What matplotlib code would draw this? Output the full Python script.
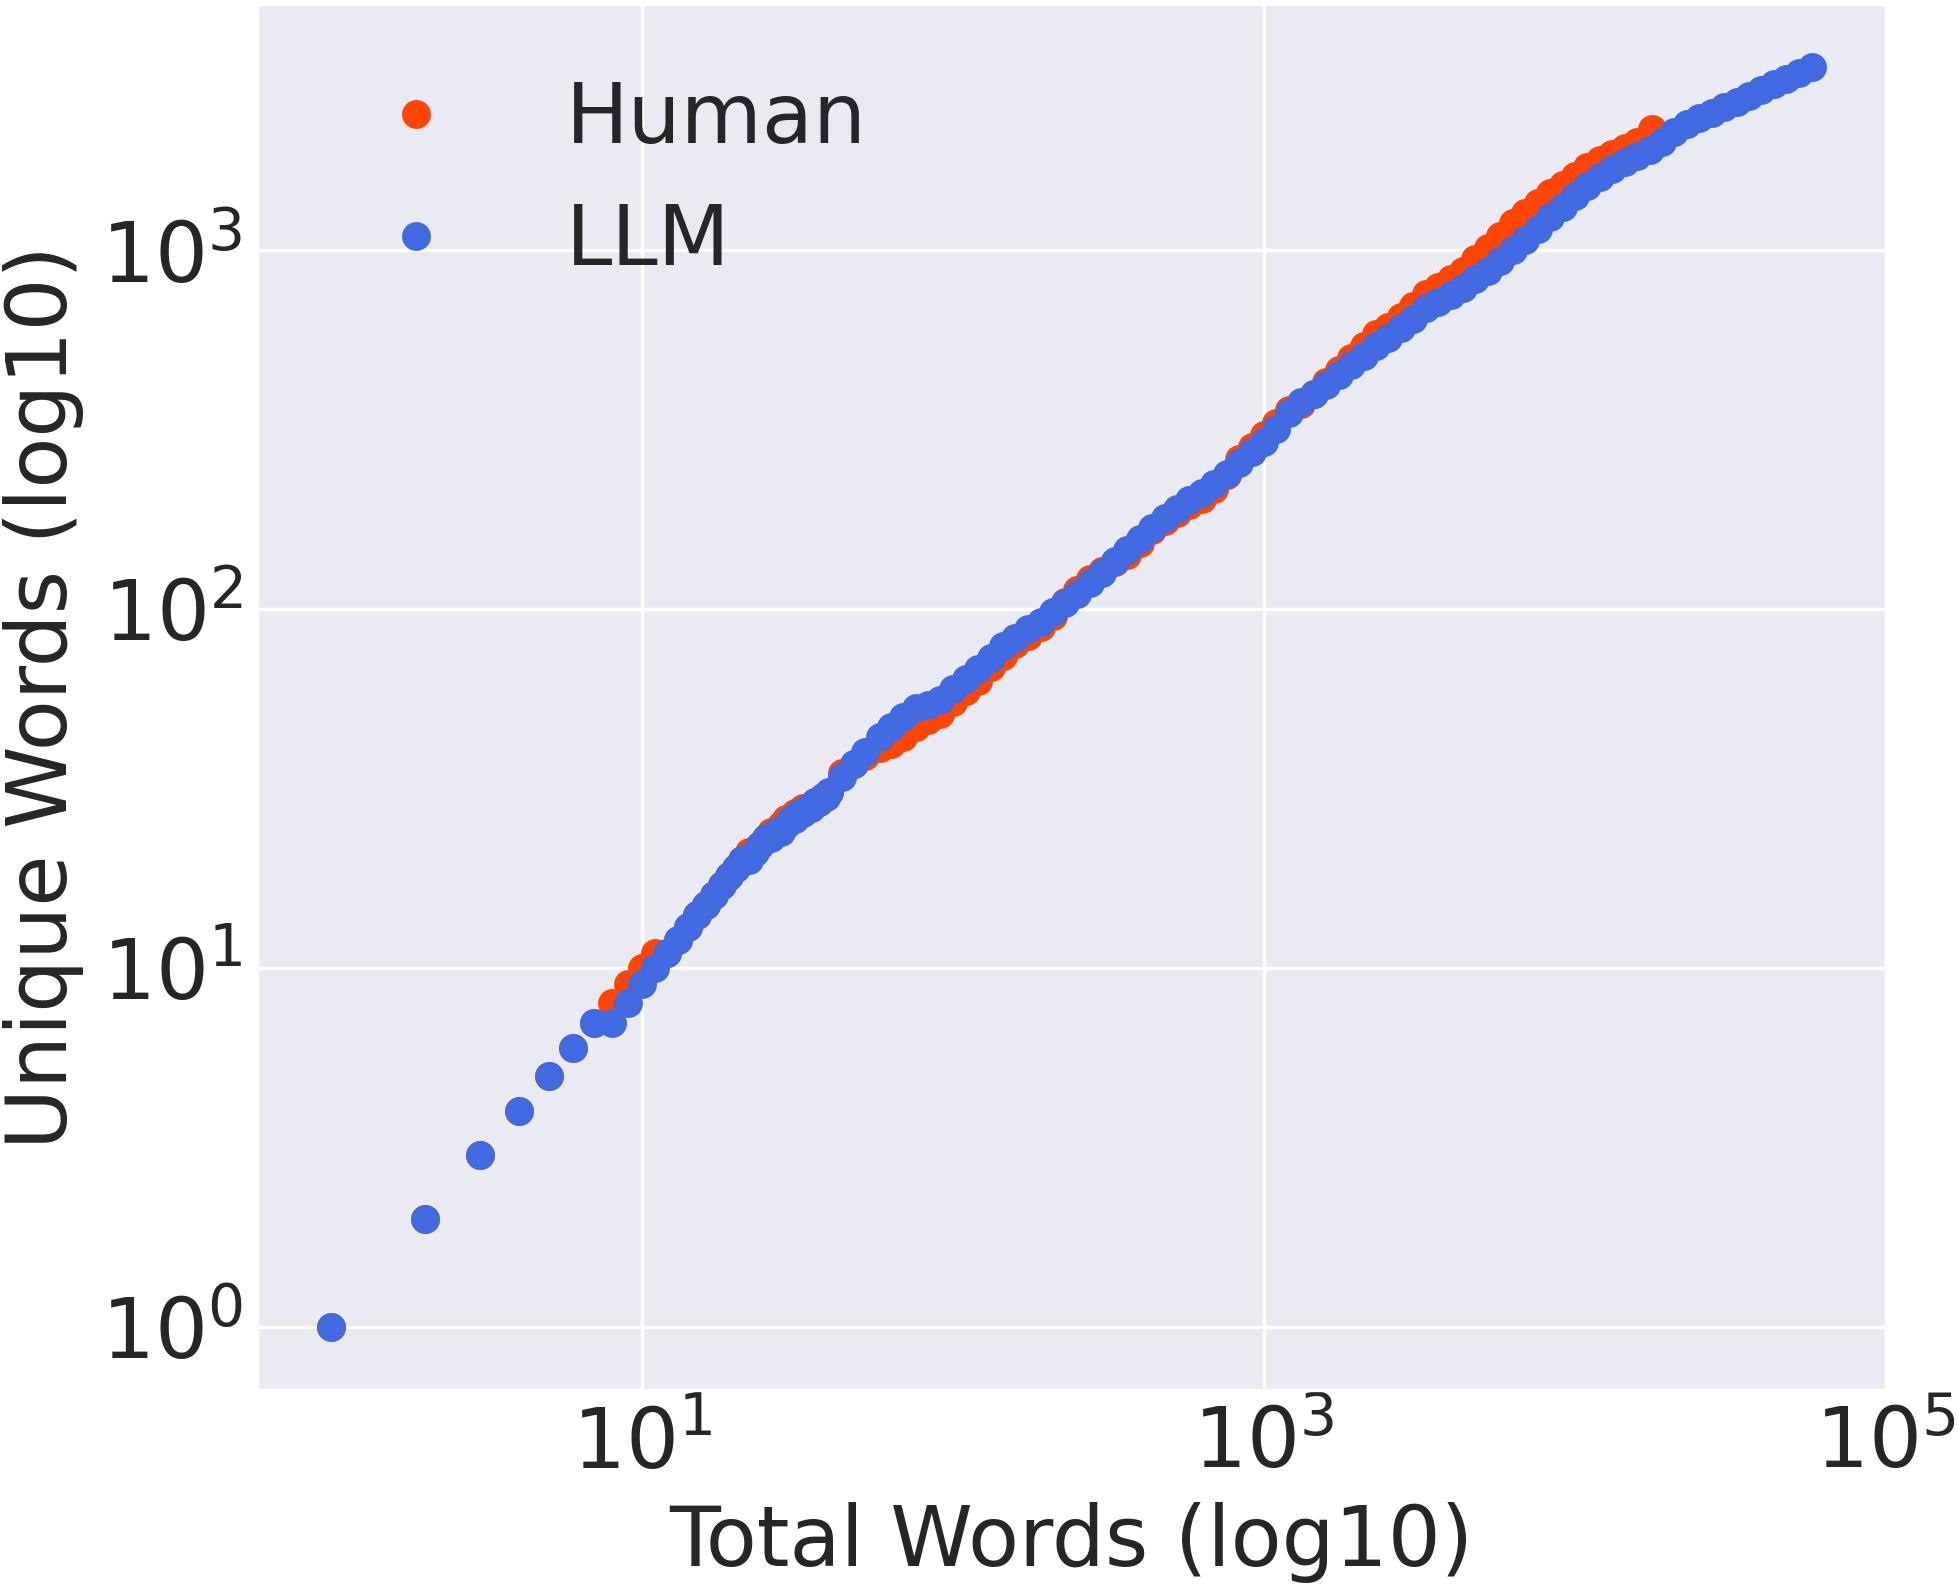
import matplotlib
matplotlib.use('Agg')
import matplotlib.pyplot as plt
import seaborn as sns

# ---- data (vocabulary growth curves) ----
human_total = [1, 2, 3, 4, 5, 6, 7, 8, 9, 10,
               11, 12, 13, 14, 15, 16, 17, 18, 19, 20,
               21, 22, 23, 24, 25, 26, 27, 28, 29, 30,
               31, 32, 33, 34, 35, 36, 37, 38, 39, 40,
               44, 48, 52, 58, 63, 69, 76, 83, 91, 100,
               110, 120, 132, 145, 158, 174, 191, 209, 229, 251,
               275, 302, 331, 363, 398, 437, 479, 525, 575, 631,
               692, 759, 832, 912, 1000, 1096, 1202, 1318, 1445, 1585,
               1738, 1905, 2089, 2291, 2512, 2754, 3020, 3311, 3631, 3981,
               4365, 4786, 5248, 5754, 6310, 6918, 7586, 8318, 9120, 10000,
               10965, 12023, 13183, 14454, 15849, 17650]
human_unique = [1, 2, 3, 4, 5, 6, 7, 8, 9, 10,
                11, 11, 12, 13, 14, 15, 16, 17, 18, 19,
                20, 21, 21, 22, 23, 24, 24, 25, 26, 26,
                27, 27, 28, 28, 28, 29, 29, 30, 30, 31,
                35, 37, 39, 41, 42, 44, 47, 49, 51, 55,
                59, 63, 69, 74, 80, 84, 89, 96, 105, 113,
                121, 128, 135, 142, 153, 166, 176, 185, 195, 203,
                216, 237, 263, 284, 305, 331, 358, 373, 399, 429,
                463, 501, 540, 583, 612, 651, 698, 754, 792, 833,
                878, 946, 1017, 1096, 1190, 1275, 1360, 1442, 1526, 1610,
                1703, 1784, 1853, 1928, 2004, 2178]

llm_total = [1, 2, 3, 4, 5, 6, 7, 8, 9, 10,
             11, 12, 13, 14, 15, 16, 17, 18, 19, 20,
             21, 22, 23, 24, 25, 26, 27, 28, 29, 30,
             31, 32, 33, 34, 35, 36, 37, 38, 39, 40,
             44, 48, 52, 58, 63, 69, 76, 83, 91, 100,
             110, 120, 132, 145, 158, 174, 191, 209, 229, 251,
             275, 302, 331, 363, 398, 437, 479, 525, 575, 631,
             692, 759, 832, 912, 1000, 1096, 1202, 1318, 1445, 1585,
             1738, 1905, 2089, 2291, 2512, 2754, 3020, 3311, 3631, 3981,
             4365, 4786, 5248, 5754, 6310, 6918, 7586, 8318, 9120, 10000,
             10965, 12023, 13183, 14454, 15849, 17378, 19055, 20893, 22909, 25119,
             27542, 30200, 33113, 36308, 39811, 43652, 47863, 52481, 58000]
llm_unique = [1, 2, 3, 4, 5, 6, 7, 7, 8, 9,
              10, 11, 12, 13, 14, 15, 16, 17, 18, 19,
              20, 20, 21, 22, 23, 23, 24, 24, 25, 26,
              26, 27, 27, 28, 28, 29, 29, 30, 30, 31,
              34, 37, 40, 44, 47, 50, 53, 54, 56, 60,
              64, 68, 73, 79, 83, 88, 92, 98, 104, 110,
              118, 126, 136, 146, 157, 168, 179, 190, 201, 211,
              223, 238, 256, 275, 293, 318, 353, 378, 399, 421,
              449, 479, 509, 540, 570, 607, 646, 689, 720, 752,
              787, 832, 877, 933, 1000, 1072, 1151, 1236, 1324, 1416,
              1517, 1600, 1683, 1762, 1832, 1905, 2000, 2133, 2249, 2333,
              2415, 2506, 2600, 2698, 2799, 2904, 3013, 3126, 3250]

series_labels = ['Human', 'LLM']
series_colors = ['orangered', 'royalblue']
x_ticks = [10, 1000, 100000]

sns.set_style('darkgrid')
plt.rcParams['font.family'] = ['DejaVu Sans']
plt.rcParams.update({
    'xtick.major.size': 0, 'ytick.major.size': 0,
    'xtick.minor.size': 0, 'ytick.minor.size': 0,
})

fig = plt.figure(figsize=(1957 / 300, 1586 / 300), dpi=300)
ax = fig.add_axes([0.1315, 0.1238, 0.8324, 0.8738])
ax.set_xscale('log')
ax.set_yscale('log')

ax.scatter(human_total, human_unique, s=48, color=series_colors[0],
           linewidths=0, label=series_labels[0])
ax.scatter(llm_total, llm_unique, s=48, color=series_colors[1],
           linewidths=0, label=series_labels[1])

ax.set_xticks(x_ticks)
ax.xaxis.set_minor_locator(matplotlib.ticker.NullLocator())
ax.set_xlabel('Total Words (log10)', fontsize=20)
ax.set_ylabel('Unique Words (log10)', fontsize=20)
ax.tick_params(labelsize=20)
ax.legend(fontsize=20, frameon=False, loc='upper left', scatteryoffsets=[0.5])

fig.savefig('out.png', dpi=300)
